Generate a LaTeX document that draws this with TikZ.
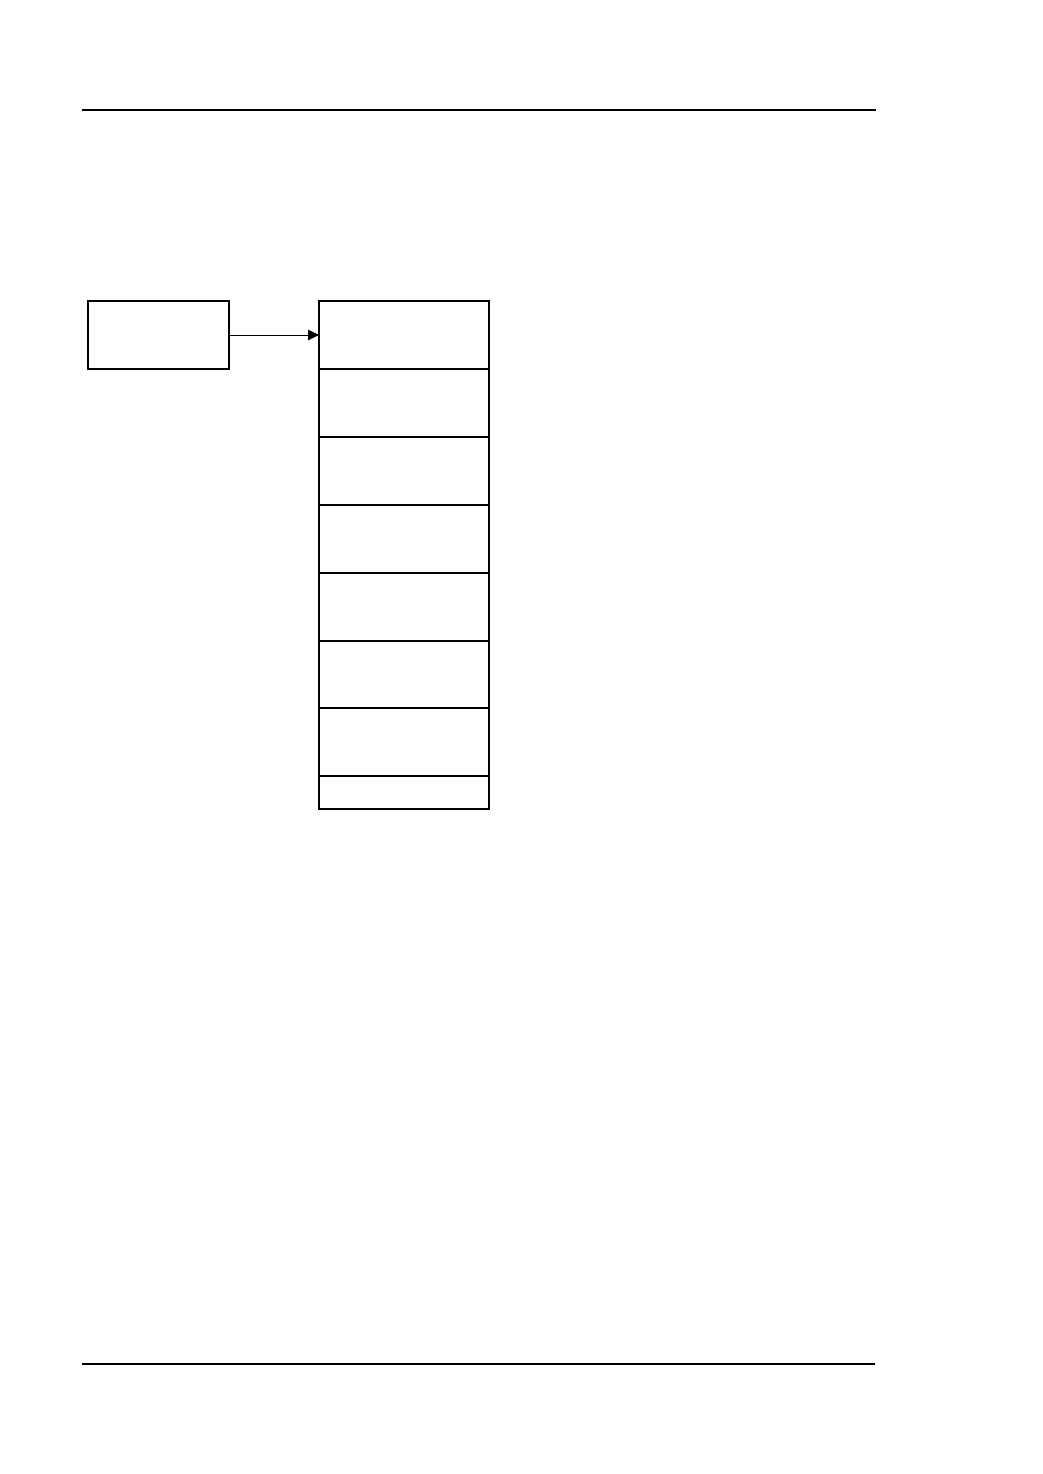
\documentclass[tikz,border=0pt]{standalone}
\usetikzlibrary{arrows.meta}
\begin{document}
\begin{tikzpicture}[x=1pt,y=-1pt,
  cell/.style={draw,line width=1.1pt,inner sep=0pt,outer sep=0pt,minimum width=170pt},
  srcbox/.style={draw,line width=1.1pt,inner sep=0pt,outer sep=0pt,minimum width=141pt,minimum height=68pt},
  conn/.style={line width=1pt,-{Triangle[length=11pt,width=10.5pt]}}]
\useasboundingbox (0,0) rectangle (1043,1474);
\draw[line width=2.2pt] (82,110) coordinate (tl) -- (876,110) coordinate (tr);
\draw[line width=1.1pt] (82,1364) coordinate (bl) -- (875,1364) coordinate (br);
\node[srcbox] (src) at (158.5,335) {};
\node[cell,minimum height=68pt] (c1) at (404,335) {};
\node[cell,minimum height=68pt] (c2) at (404,403) {};
\node[cell,minimum height=68pt] (c3) at (404,471) {};
\node[cell,minimum height=68pt] (c4) at (404,539) {};
\node[cell,minimum height=68pt] (c5) at (404,607) {};
\node[cell,minimum height=67pt] (c6) at (404,674.5) {};
\node[cell,minimum height=68pt] (c7) at (404,742) {};
\node[cell,minimum height=33pt] (c8) at (404,792.5) {};
\draw[conn] (src.east) -- (c1.west);
\end{tikzpicture}
\end{document}
